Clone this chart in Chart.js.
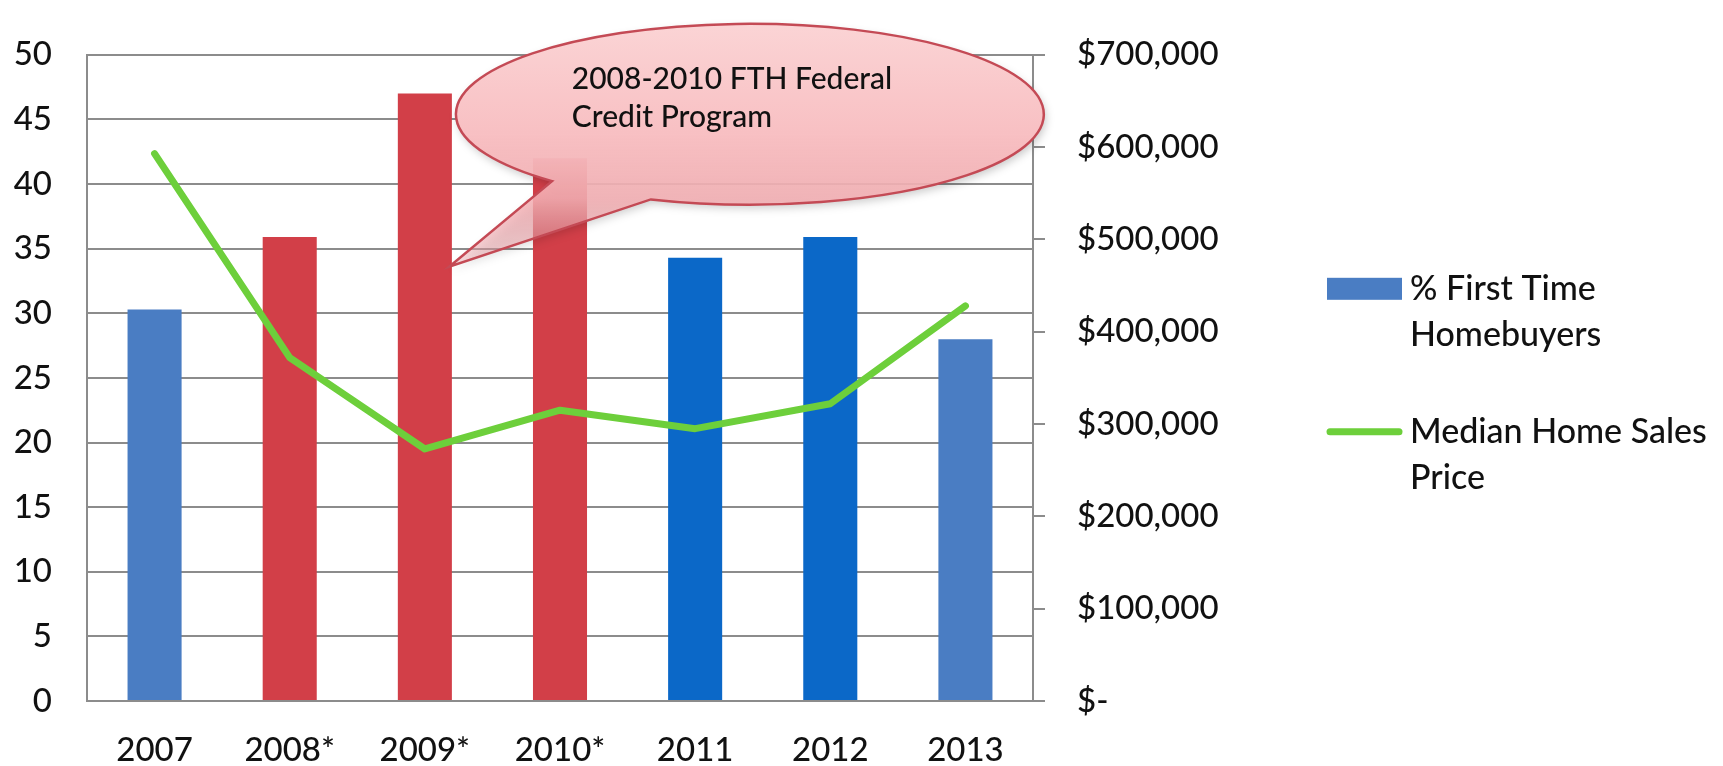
<!DOCTYPE html>
<html>
<head>
<meta charset="utf-8">
<script src="https://cdn.jsdelivr.net/npm/chart.js@4.4.1/dist/chart.umd.min.js"></script>
<style>
html, body { margin: 0; padding: 0; background: #ffffff; }
#wrap { position: relative; width: 1723px; height: 766px; }
#wrap canvas { position: absolute; left: 0; top: 0; display: block; }
#ov { pointer-events: none; }
</style>
</head>
<body>
<div id="wrap">
<canvas id="c" width="1723" height="766"></canvas>
<canvas id="ov" width="1723" height="766"></canvas>
</div>
<script>
// ---- data ----
const categories = ['2007', '2008*', '2009*', '2010*', '2011', '2012', '2013'];
const firstTimeBuyersPct = [30.3, 35.9, 47.0, 42.0, 34.3, 35.9, 28.0];
const medianSalesPrice = [593000, 372000, 273000, 315000, 295000, 322000, 428000];
const leftAxisTicks = { min: 0, max: 50, step: 5 };
const rightAxisTicks = { min: 0, max: 700000, step: 100000 };
const seriesNames = ['% First Time Homebuyers', 'Median Home Sales Price'];
const legendLines = [['% First Time', 'Homebuyers'], ['Median Home Sales', 'Price']];
const calloutLines = ['2008-2010 FTH Federal', 'Credit Program'];
const calloutTargetValue = 33.6; // where the callout tail points, on the left axis

// ---- styles ----
const BLUE_STD = '#4a7dc3';
const BLUE_BRIGHT = '#0b68c8';
const RED = '#d23f48';
const GREEN = '#6dcf3b';
const GRID = '#8c8c8c';
const barColors = [BLUE_STD, RED, RED, RED, BLUE_BRIGHT, BLUE_BRIGHT, BLUE_STD];
const AXIS_FONT = { family: 'Lato', size: 33, weight: '500' };

function drawCallout(chart, ctx) {
  const xs = chart.scales.x, ys = chart.scales.y;
  const left = xs.getPixelForValue(2.23);
  const right = xs.getPixelForValue(6.58);
  const top = ys.getPixelForValue(52.4);
  const bottom = ys.getPixelForValue(38.4);
  const cx = (left + right) / 2, cy = (top + bottom) / 2;
  const rx = (right - left) / 2, ry = (bottom - top) / 2;
  const tipX = xs.getPixelForValue(2.18);
  const tipY = ys.getPixelForValue(calloutTargetValue);
  const t1 = 132.3 * Math.PI / 180, t2 = 109.7 * Math.PI / 180;

  ctx.save();
  ctx.beginPath();
  ctx.ellipse(cx, cy, rx, ry, 0, t1, t2 + 2 * Math.PI, false);
  ctx.lineTo(tipX, tipY);
  ctx.closePath();

  const g = ctx.createLinearGradient(0, top, 0, tipY);
  g.addColorStop(0, 'rgba(251,212,213,1)');
  g.addColorStop(0.45, 'rgba(248,192,195,1)');
  g.addColorStop(0.72, 'rgba(245,176,180,0.88)');
  g.addColorStop(1, 'rgba(236,158,165,0.35)');
  ctx.shadowColor = 'rgba(0,0,0,0.22)';
  ctx.shadowBlur = 8;
  ctx.shadowOffsetX = 2;
  ctx.shadowOffsetY = 4;
  ctx.fillStyle = g;
  ctx.fill();
  ctx.shadowColor = 'transparent';
  ctx.lineWidth = 2.5;
  ctx.strokeStyle = '#c44a55';
  ctx.stroke();

  ctx.fillStyle = '#111';
  ctx.font = '500 30px Lato';
  ctx.textAlign = 'left';
  ctx.textBaseline = 'alphabetic';
  const tx = cx - 0.6058 * rx;
  ctx.fillText(calloutLines[0], tx, cy - 25);
  ctx.fillText(calloutLines[1], tx, cy + 13);
  ctx.restore();
}

const legendPlugin = {
  id: 'sideLegend',
  afterDraw(chart) {
    const { ctx, chartArea: a } = chart;
    const x0 = a.right + 294, x1 = a.right + 369, tx = a.right + 377;
    const rows = [a.top + 234, a.top + 377];
    ctx.save();
    ctx.fillStyle = BLUE_STD;
    ctx.fillRect(x0, rows[0] - 11, x1 - x0, 22);
    ctx.strokeStyle = GREEN;
    ctx.lineWidth = 7;
    ctx.lineCap = 'round';
    ctx.beginPath();
    ctx.moveTo(x0 + 3, rows[1]);
    ctx.lineTo(x1 - 3, rows[1]);
    ctx.stroke();

    ctx.fillStyle = '#111';
    ctx.font = '500 34px Lato';
    ctx.textAlign = 'left';
    ctx.textBaseline = 'alphabetic';
    legendLines.forEach((lines, i) => {
      lines.forEach((t, j) => ctx.fillText(t, tx, rows[i] + 11 + j * 46));
    });
    ctx.restore();
  }
};

const chart = new Chart(document.getElementById('c'), {
  data: {
    labels: categories,
    datasets: [
      {
        type: 'line',
        label: seriesNames[1],
        data: medianSalesPrice,
        yAxisID: 'y1',
        borderColor: GREEN,
        borderWidth: 7,
        borderCapStyle: 'round',
        borderJoinStyle: 'round',
        pointRadius: 0,
        tension: 0,
        fill: false,
        order: 0
      },
      {
        type: 'bar',
        label: seriesNames[0],
        data: firstTimeBuyersPct,
        yAxisID: 'y',
        backgroundColor: barColors,
        borderWidth: 0,
        barPercentage: 0.4,
        categoryPercentage: 1.0,
        order: 1
      }
    ]
  },
  options: {
    responsive: false,
    devicePixelRatio: 1,
    animation: false,
    layout: { padding: { left: 0, top: 50, right: 490, bottom: 0 } },
    plugins: { legend: { display: false }, tooltip: { enabled: false } },
    scales: {
      x: {
        grid: { display: false },
        border: { display: true, color: GRID, width: 2 },
        ticks: { font: AXIS_FONT, color: '#111', padding: 22, maxRotation: 0 },
        afterFit(s) { s.height = 65; }
      },
      y: {
        position: 'left',
        min: leftAxisTicks.min,
        max: leftAxisTicks.max,
        grid: { color: GRID, lineWidth: 2, drawTicks: false },
        border: { display: true, color: GRID, width: 2 },
        ticks: { stepSize: leftAxisTicks.step, font: AXIS_FONT, color: '#111', padding: 35 },
        afterFit(s) { s.width = 87; }
      },
      y1: {
        position: 'right',
        min: rightAxisTicks.min,
        max: rightAxisTicks.max,
        grid: { drawOnChartArea: false, color: GRID, lineWidth: 2, drawTicks: true, tickLength: 12 },
        border: { display: true, color: GRID, width: 2 },
        ticks: {
          stepSize: rightAxisTicks.step,
          font: AXIS_FONT,
          color: '#111',
          padding: 32,
          callback: v => v === 0 ? '$-' : '$' + Number(v).toLocaleString('en-US')
        },
        afterFit(s) { s.width = 200; }
      }
    }
  },
  plugins: [legendPlugin]
});

drawCallout(chart, document.getElementById('ov').getContext('2d'));
</script>
</body>
</html>
